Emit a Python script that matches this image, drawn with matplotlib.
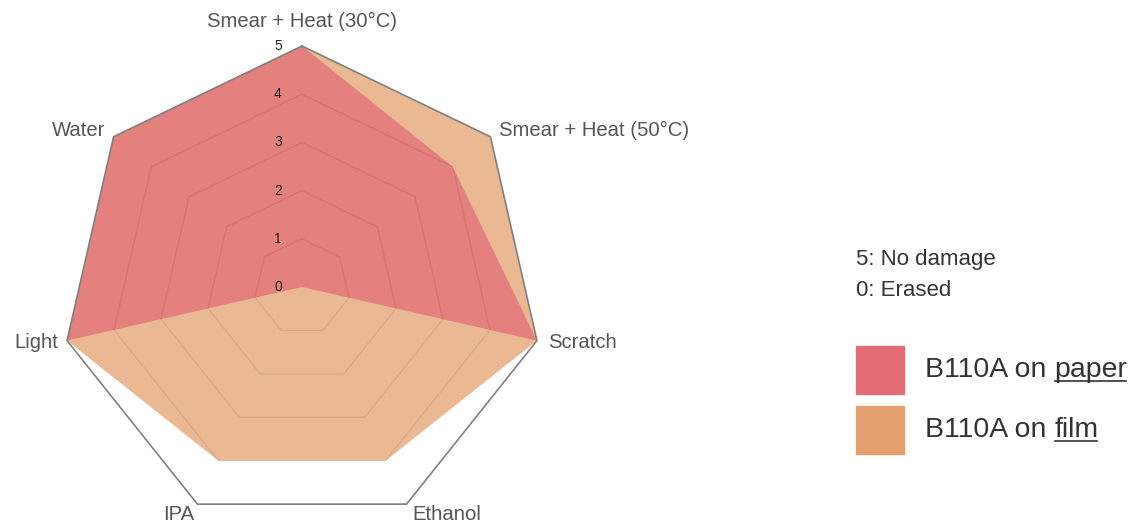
import numpy as np
import matplotlib
matplotlib.use("Agg")
import matplotlib.pyplot as plt
from matplotlib.patches import Rectangle

plt.rcParams['font.family'] = ['Liberation Sans', 'DejaVu Sans']

# Data (0 = erased, 5 = no damage)
categories = ["Smear + Heat (30°C)", "Smear + Heat (50°C)", "Scratch",
              "Ethanol", "IPA", "Light", "Water"]
paper = [5, 4, 5, 0, 0, 5, 5]
film = [5, 5, 5, 4, 4, 5, 5]
levels = [0, 1, 2, 3, 4, 5]
series_names = ["paper", "film"]
series_colors = ["#e36b75", "#e39f6d"]

n = len(categories)
# start at the top and go clockwise
angles = np.pi / 2 - np.arange(n) * 2 * np.pi / n


def to_xy(values):
    v = np.asarray(values, dtype=float)
    return v * np.cos(angles), v * np.sin(angles)


fig = plt.figure(figsize=(11.3, 5.22), dpi=100)
ax = fig.add_axes([0, 0, 604 / 1130, 1])
ppu = 48.2  # pixels per unit
ax.set_xlim(-302 / ppu, 302 / ppu)
ax.set_ylim(-235 / ppu, 287 / ppu)
ax.axis('off')

# filled areas, film underneath
fx, fy = to_xy(film)
ax.fill(fx, fy, color=series_colors[1], alpha=0.73, lw=0, zorder=1)
px, py = to_xy(paper)
ax.fill(px, py, color=series_colors[0], alpha=0.73, lw=0, zorder=2)

# heptagon grid
for lv in levels[1:]:
    gx, gy = to_xy([lv] * n)
    gx = np.append(gx, gx[0])
    gy = np.append(gy, gy[0])
    if lv == levels[-1]:
        ax.plot(gx, gy, color="#808080", lw=1.2, zorder=3)
    else:
        ax.plot(gx, gy, color="#000000", alpha=0.08, lw=0.9, zorder=3)

# radial value labels
for lv in levels:
    ax.text(-0.5, lv, str(lv), ha='center', va='center', fontsize=10,
            color="#222222", zorder=4)

# category labels
offsets = [(0, 17.5), (6, 4.5), (8, -1.5), (4, -7.5), (-2, -7.5), (-6, -1.5), (-6, 4.5)]
outer = to_xy([levels[-1]] * n)
for i, name in enumerate(categories):
    dx, dy = offsets[i]
    if dx > 0:
        ha = 'left'
    elif dx < 0:
        ha = 'right'
    else:
        ha = 'center'
    ax.annotate(name, xy=(outer[0][i], outer[1][i]), xytext=(dx, dy),
                textcoords='offset points', ha=ha, va='center',
                fontsize=14.6, color="#555555")

# notes and legend on the right
fig.text(856 / 1130, 1 - 260 / 522, "5: No damage", fontsize=16,
         color="#333333", va='center')
fig.text(856 / 1130, 1 - 291 / 522, "0: Erased", fontsize=16,
         color="#333333", va='center')

row_y = [370, 430]
labels = []
for i, name in enumerate(series_names):
    yc = 1 - row_y[i] / 522
    fig.patches.append(Rectangle((856 / 1130, yc - 24 / 522), 48 / 1130, 48 / 522,
                                 transform=fig.transFigure,
                                 color=series_colors[i]))
    t1 = fig.text(925 / 1130, yc, "B110A on ", fontsize=20.5,
                  color="#333333", va='center')
    t2 = fig.text(0, yc, name, fontsize=20.5, color="#333333", va='center')
    labels.append((t1, t2, row_y[i]))

fig.canvas.draw()
renderer = fig.canvas.get_renderer()
for t1, t2, ry in labels:
    b1 = t1.get_window_extent(renderer)
    t2.set_x(b1.x1 / 1130)
    fig.canvas.draw()
    b2 = t2.get_window_extent(renderer)
    uy = 1 - (ry + 10.5) / 522
    fig.add_artist(plt.Line2D([(b2.x0 + 1) / 1130, (b2.x1 - 1) / 1130], [uy, uy],
                              transform=fig.transFigure, color="#333333", lw=1.2))

fig.savefig("out.png", dpi=100)
